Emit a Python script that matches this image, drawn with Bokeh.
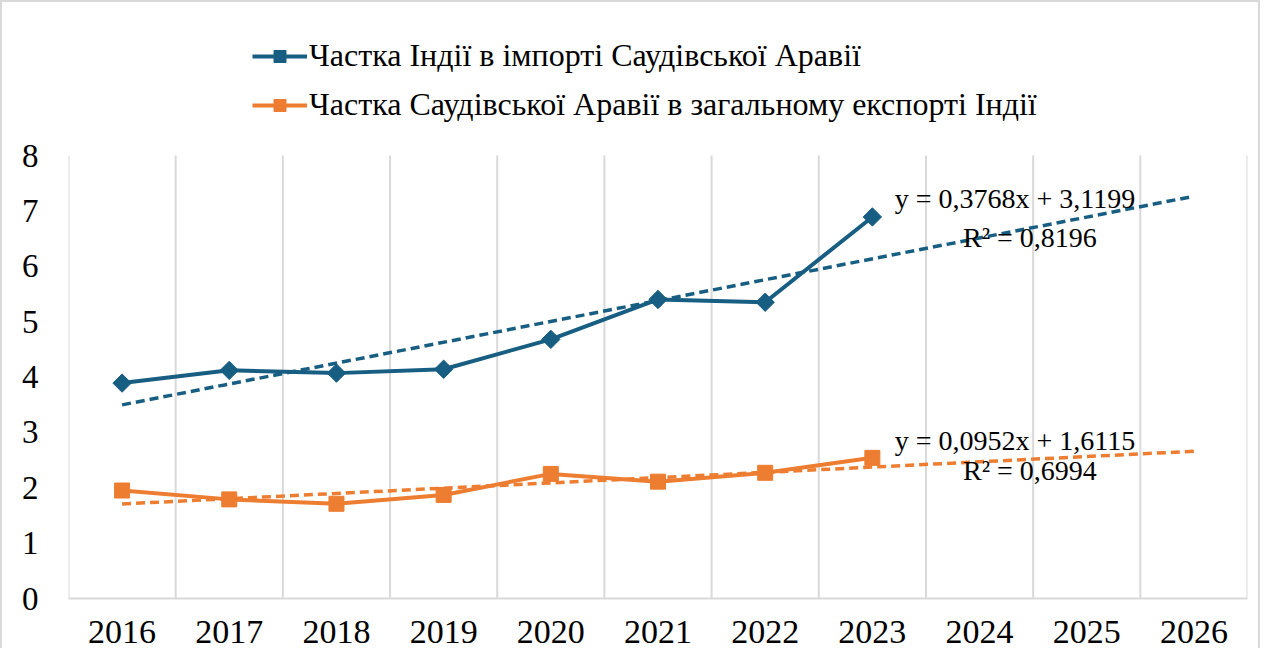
import math
from bokeh.plotting import figure
from bokeh.models import (Range1d, FixedTicker, Legend, LegendItem, Label)
from bokeh.embed import file_html
from bokeh.resources import INLINE

# ---- data ----
years = [2016, 2017, 2018, 2019, 2020, 2021, 2022, 2023]
axis_years = [2016, 2017, 2018, 2019, 2020, 2021, 2022, 2023, 2024, 2025, 2026]
india_share_in_saudi_imports = [3.89, 4.12, 4.07, 4.14, 4.68, 5.40, 5.35, 6.89]
saudi_share_in_india_exports = [1.95, 1.79, 1.71, 1.87, 2.25, 2.11, 2.27, 2.54]
trend_years = [2016, 2026]
india_trend = [3.497, 7.264]      # y = 0,3768x + 3,1199
saudi_trend = [1.707, 2.659]      # y = 0,0952x + 1,6115
y_ticks = [0, 1, 2, 3, 4, 5, 6, 7, 8]
label_india = "Частка Індії в імпорті Саудівської Аравії"
label_saudi = "Частка Саудівської Аравії в загальному експорті Індії"
eq_india = ["y = 0,3768x + 3,1199", "R² = 0,8196"]
eq_saudi = ["y = 0,0952x + 1,6115", "R² = 0,6994"]

BLUE = "#175e82"
ORANGE = "#ed7d31"
GRID = "#d9d9d9"
FONT = "Liberation Serif"

# frame extends above the value axis to host the legend (value 8 sits 143px below frame top)
Y_TOP = y_ticks[-1] + 143 / 55.375

p = figure(width=1260, height=648, output_backend="svg", toolbar_location=None,
           x_range=Range1d(axis_years[0] - 0.5, axis_years[-1] + 0.5),
           y_range=Range1d(0, Y_TOP),
           min_border_left=66, min_border_right=15, min_border_top=10,
           min_border_bottom=52,
           styles={"border-left": "2px solid #d9d9d9", "border-top": "2px solid #d9d9d9",
                   "border-right": "2px solid #d9d9d9"})
p.outline_line_color = None
p.xgrid.visible = False
p.ygrid.visible = False

# vertical category-boundary gridlines, only over the value range
bounds = [y - 0.5 for y in axis_years] + [axis_years[-1] + 0.5]
p.segment(x0=bounds, y0=y_ticks[0], x1=bounds, y1=y_ticks[-1],
          line_color=GRID, line_width=2)

p.xaxis.ticker = FixedTicker(ticks=axis_years)
p.xaxis.axis_line_color = GRID
p.xaxis.axis_line_width = 2
p.xaxis.major_tick_line_color = None
p.xaxis.minor_tick_line_color = None
p.xaxis.major_label_text_font = FONT
p.xaxis.major_label_text_font_size = "34px"
p.xaxis.major_label_text_color = "black"
p.xaxis.major_label_standoff = 16

p.yaxis.ticker = FixedTicker(ticks=y_ticks)
p.yaxis.axis_line_color = None
p.yaxis.major_tick_line_color = None
p.yaxis.minor_tick_line_color = None
p.yaxis.major_label_text_font = FONT
p.yaxis.major_label_text_font_size = "33px"
p.yaxis.major_label_text_color = "black"
p.yaxis.major_label_standoff = 24

# trendlines
p.line(trend_years, india_trend, line_color=BLUE, line_width=3.5, line_dash="9 5")
p.line(trend_years, saudi_trend, line_color=ORANGE, line_width=3.5, line_dash="9 5")

# series
l1 = p.line(years, india_share_in_saudi_imports, line_color=BLUE, line_width=4)
m1 = p.scatter(years, india_share_in_saudi_imports, marker="square", size=13,
               angle=math.pi / 4, fill_color=BLUE, line_color=BLUE)
l2 = p.line(years, saudi_share_in_india_exports, line_color=ORANGE, line_width=4)
m2 = p.scatter(years, saudi_share_in_india_exports, marker="square", size=15,
               fill_color=ORANGE, line_color=ORANGE)

# equation labels
def eq(text, x, y):
    p.add_layout(Label(x=x, y=y, text=text, text_font=FONT, text_font_size="28px",
                       text_align="center", text_baseline="middle", text_color="black"))

eq(eq_india[0], 2024.33, 7.22)
eq(eq_india[1], 2024.47, 6.52)
eq(eq_saudi[0], 2024.33, 2.85)
eq(eq_saudi[1], 2024.47, 2.31)

legend = Legend(items=[LegendItem(label=label_india, renderers=[l1, m1]),
                       LegendItem(label=label_saudi, renderers=[l2, m2])],
                location=(184, 475), orientation="vertical",
                label_text_font=FONT, label_text_font_size="32px",
                label_text_color="black", glyph_width=55, glyph_height=30,
                spacing=12, padding=0, margin=0, label_standoff=2,
                background_fill_alpha=0, border_line_color=None)
p.add_layout(legend, "center")

open("out.html", "w").write(file_html(p, INLINE))
